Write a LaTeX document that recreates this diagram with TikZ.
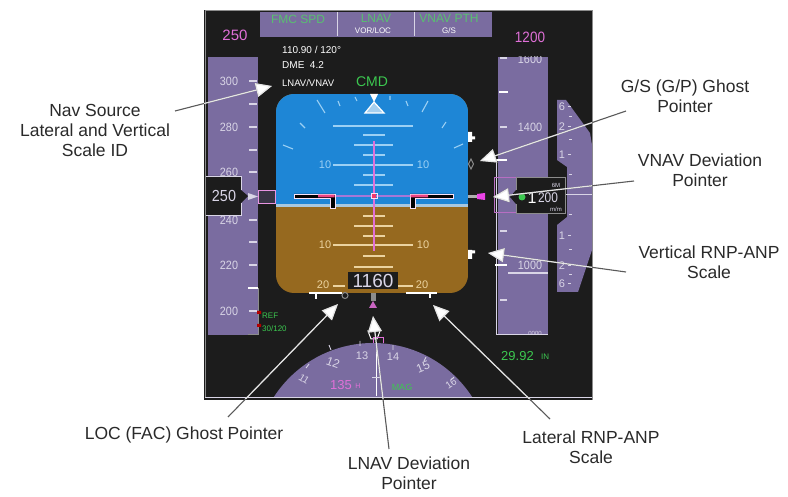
\documentclass[tikz,border=0pt]{standalone}
\usepackage{fontspec}
\setmainfont{Liberation Sans}
\usetikzlibrary{arrows.meta}
\definecolor{panelbg}{HTML}{1C1C1C}
\definecolor{tape}{HTML}{7A6CA0}
\definecolor{sky}{HTML}{1E86D6}
\definecolor{ground}{HTML}{96691F}
\definecolor{band}{HTML}{A8C8E0}
\definecolor{pale}{HTML}{D9D5E6}
\definecolor{skyline}{HTML}{9CD0F4}
\definecolor{gndline}{HTML}{EBD3A0}
\definecolor{mag}{HTML}{E070D8}
\definecolor{grn}{HTML}{3CC850}
\definecolor{bargrn}{HTML}{58C070}
\definecolor{edgegray}{HTML}{8C8C8C}
\definecolor{calloutgray}{HTML}{5A5A5A}
\definecolor{lbltext}{HTML}{2A2A2A}
\tikzset{
  lbl/.style={font=\fontsize{17.5}{20}\selectfont,align=center,inner sep=0pt,text=lbltext},
  disp/.style={inner sep=0pt,font=\fontsize{#1}{#1}\selectfont},
  tapeno/.style={disp=12,text=pale,xscale=.9},
  whitetick/.style={draw=white,line width=1.2pt},
  paletick/.style={draw=pale,line width=1.2pt},
  skyl/.style={draw=skyline,line width=1.2pt},
  gndl/.style={draw=gndline,line width=1.2pt},
  bankl/.style={draw=skyline,line width=1.1pt},
  wingbar/.style={fill=black,draw=white!80!mag,line width=.8pt},
  calloutout/.style={draw=calloutgray,line width=1.1pt,-{Triangle[length=16pt,width=14pt,fill=white]}},
  calloutin/.style={draw=white!90!black,line width=1.2pt,-{Triangle[length=16pt,width=14pt,fill=white]}},
}
\begin{document}
\begin{tikzpicture}[x=1pt,y=-1pt]
\useasboundingbox (0,0) rectangle (788,497);
\fill[white] (0,0) rectangle (788,497);
% panel
\fill[panelbg] (204,10) rectangle (593,400);
\draw[edgegray,line width=1.2pt] (204.5,10.5) -- (592.5,10.5) -- (592.5,400);
\draw[edgegray,line width=1pt] (205,10.5) -- (205,397);
% top bar
\fill[tape] (260,12) rectangle (492,37);
\draw[pale,line width=1pt] (337,12) -- (337,36) (414,12) -- (414,36);
\node[disp=12,text=bargrn] (fmc) at (298,19) {FMC SPD};
\node[disp=12,text=bargrn] (lnav) at (376,18) {LNAV};
\node[disp=8,text=white] (vor) at (373,31) {VOR/LOC};
\node[disp=12,text=bargrn] (vnav) at (449,18) {VNAV PTH};
\node[disp=8,text=white] (gs) at (449,31) {G/S};
\node[disp=15,text=mag] (spdsel) at (235,35) {250};
\node[disp=15,text=mag,xscale=.9] (vssel) at (530,37) {1200};
\node[disp=10,text=white,anchor=west] (freq) at (282,50) {110.90 / 120°};
\node[disp=10,text=white,anchor=west] (dme) at (282,65) {DME \ 4.2};
\node[disp=9.5,text=white,anchor=west] (src) at (282,83) {LNAV/VNAV};
\node[disp=14,text=grn] (cmd) at (372,82) {CMD};
% speed tape
\fill[tape] (208,57) rectangle (258,335);
\foreach \yy/\tt in {81/300,127/280,172/260,220/240,265/220,311/200}
  \node[tapeno] at (229,\yy) {\tt};
\foreach \yy in {81,104,127,150,172,220,242,265,311}
  \draw[paletick] (249,\yy) -- (257,\yy);
\draw[whitetick,line width=1.5pt] (248,288) -- (258,288);
\draw[edgegray,line width=1pt] (258,288) -- (258,335) -- (248,335);
\fill[red!70!black] (257,311) rectangle (261,314) (257,324) rectangle (261,327);
\node[disp=8,text=grn,anchor=west] (refl) at (262,316) {REF};
\node[disp=8,text=grn,anchor=west] (refv) at (262,329) {30/120};
% speed box
\fill[panelbg!70!tape] (258,190) rectangle (275,203);
\draw[mag!75!white,line width=.8pt] (258,190) rectangle (275,203);
\fill[panelbg] (206,176) -- (241,176) -- (241,190) -- (248,196) -- (241,203) -- (241,215) -- (206,215) -- cycle;
\fill[pale] (248,193) -- (258,196.5) -- (248,200) -- cycle;
\draw[pale,line width=.9pt] (241,190) -- (241,176) -- (206,176) (206,215) -- (241,215) -- (241,203);
\node[disp=16,text=pale,xscale=.9] (spd) at (224,196) {250};
% VSI tape
\fill[tape] (498,57) rectangle (548,335);
\draw[pale,line width=1pt] (496,160) -- (496,335) -- (548,335);
\begin{scope}
  \clip (498,57) rectangle (548,335);
  \node[tapeno] at (530,59) {1600};
\end{scope}
\node[tapeno] at (530,127) {1400};
\node[tapeno] at (530,265) {1000};
\foreach \yy in {58,127,231,300}
  \draw[paletick] (500,\yy) -- (507,\yy);
\draw[whitetick,line width=2pt] (499,92) -- (508,92);
\draw[whitetick] (496,160) -- (507,160);
\draw[whitetick,line width=2pt] (495,265) -- (507,265);
\draw[paletick] (508,273) -- (548,273);
\node[disp=6,text=pale] at (535,333) {0000};
% vertical scale on the right
\fill[tape] (557,100) -- (566,100) -- (590,133) -- (592,145) -- (592,250) -- (578,292) -- (557,292)
  -- (557,225) -- (567,217) -- (567,167) -- (557,160) -- cycle;
\foreach \yy/\tt in {107/6,127/2,155/1,236/1,266/2,284/6} {
  \node[disp=11,text=pale] at (562,\yy) {\tt};
  \draw[pale,line width=1pt] (568,\yy) -- (571,\yy);
}
\foreach \yy in {117,140,175,215,250,275}
  \draw[pale,line width=1pt] (569,\yy) -- (572,\yy);
\draw[pale,line width=1pt] (548,195) -- (592,195);
% VS box
\draw[mag!60!tape,line width=1pt] (516,178) -- (494,178) -- (494,213) -- (516,213);
\fill[panelbg] (516,178) -- (565,178) -- (565,214) -- (516,214) -- (516,204) -- (510,197) -- (516,190) -- cycle;
\draw[edgegray,line width=1pt] (516,190) -- (516,178) -- (565,178) -- (565,214) -- (516,214) -- (516,204);
\node[disp=16,text=white] (vsone) at (532,198) {1};
\node[disp=14,text=pale,xscale=.85] (vsrest) at (548,198) {200};
\node[disp=6,text=pale] (vstop) at (556,185) {6M};
\node[disp=6,text=pale] (vsbot) at (556,209) {m/m};
\fill[grn] (522,197) circle (3.5pt);
% ADI
\begin{scope}
  \clip[rounded corners=18pt] (276,94) rectangle (468,293);
  \fill[ground] (276,94) rectangle (468,293);
  \fill[sky] (276,94) rectangle (468,204);
  \fill[band] (276,204) rectangle (468,207.5);
\end{scope}
% pitch lines
\foreach \yy in {126,165} \draw[skyl] (333,\yy) -- (413,\yy);
\foreach \yy in {135,155,175} \draw[skyl] (363,\yy) -- (385,\yy);
\foreach \yy in {145,185} \draw[skyl] (354,\yy) -- (393,\yy);
\node[disp=11,text=skyline] (psa) at (325,165) {10};
\node[disp=11,text=skyline] (psb) at (423,165) {10};
\draw[gndl] (333,245) -- (413,245);
\foreach \yy in {216,236,256} \draw[gndl] (363,\yy) -- (385,\yy);
\foreach \yy in {226,267} \draw[gndl] (354,\yy) -- (393,\yy);
\draw[gndl] (333,286) -- (345,286) (398,286) -- (413,286);
\node[disp=11,text=gndline] (pga) at (325,245) {10};
\node[disp=11,text=gndline] (pgb) at (423,245) {10};
\node[disp=11,text=gndline] (pgc) at (323,285) {20};
\node[disp=11,text=gndline] (pgd) at (422,285) {20};
% bank scale
\draw[bankl] (317,100) -- (325,113) (338,101) -- (340,106) (355,97) -- (357,101)
  (390,96) -- (390,100) (406,101) -- (408,106) (422,112) -- (428,101)
  (300,123) -- (305,128) (283,145) -- (293,149) (442,128) -- (446,122) (454,148) -- (463,144);
% sky pointer
\fill[white] (370,94) -- (378,94) -- (374,102) -- cycle;
\draw[white,line width=1.2pt,fill=sky!40!white] (374,102) -- (365,113) -- (384,113) -- cycle;
% flight director
\draw[mag,line width=1.4pt] (374,141) -- (374,251);
\draw[mag!70!sky,line width=1.4pt] (335,196) -- (410,196);
\fill[mag!50!red] (372,194) rectangle (376,198);
\draw[white!80!mag,line width=.8pt] (371,193.5) rectangle (377,198.5);
% wings
\draw[wingbar] (294,194) -- (335,194) -- (335,208) -- (330,208) -- (330,198) -- (294,198) -- cycle;
\draw[wingbar] (453,194) -- (410,194) -- (410,208) -- (415,208) -- (415,198) -- (453,198) -- cycle;
\fill[mag!60!red] (318,194.6) rectangle (334.5,197.4) (410.5,194.6) rectangle (428,197.4);
% altitude readout
\fill[panelbg] (348,272) rectangle (398,289);
\node[disp=19,text=pale] (alt) at (373,281) {1160};
% scales below and right of the ADI
\draw[white,line width=2pt] (309,293.5) -- (342,293.5) (406,293.5) -- (437,293.5);
\draw[white,line width=1.3pt] (316,293) -- (316,299) (430,293) -- (430,298);
\draw[edgegray,line width=1pt] (345,295.5) circle (3pt);
\fill[edgegray] (371,293) rectangle (375.5,301);
\fill[mag!90!black] (373,301) -- (377,308) -- (369,308) -- cycle;
\fill[white] (468,132) rectangle (472,142) (472,136.5) rectangle (475,139.5);
\draw[edgegray,line width=1pt] (471,159) -- (473.5,164) -- (471,169) -- (468.5,164) -- cycle;
\fill[edgegray!70!white] (468,195) rectangle (477,198.5);
\fill[mag!60!magenta] (477,194) -- (485,193) -- (485,200) -- (477,199) -- cycle;
\fill[white] (468,250) rectangle (472,259) (472,250.5) rectangle (475,253.5);
% compass
\begin{scope}
  \clip (204,10) rectangle (593,396.5);
  \fill[tape] (373,461) circle (118pt);
\end{scope}
\draw[pale,line width=1pt] (205,397) -- (592,397);
\draw[white,line width=1pt] (376,343) -- (376,396);
\draw[pale,line width=1pt] (372,378) -- (381,378);
\draw[white,line width=1pt] (368,331) -- (380,331) -- (377,339) -- (371,339) -- cycle;
\draw[mag,line width=.8pt] (373,337) -- (383,337) -- (383,343) (373,337) -- (373,343);
\node[disp=10,text=pale,rotate=-32] (hda) at (304,379) {11};
\node[disp=12,text=pale,rotate=-20] (hdb) at (333,363) {12};
\node[disp=11,text=pale] (hdc) at (362,356) {13};
\node[disp=11,text=pale] (hdd) at (393,357) {14};
\node[disp=12,text=pale,rotate=22] (hde) at (423,367) {15};
\node[disp=10,text=pale,rotate=34] (hdf) at (451,384) {16};
\draw[pale,line width=.9pt] (329,345) -- (331,350) (360,341) -- (360,346) (393,345) -- (393,350) (426,357) -- (424,361) (454,377) -- (451,380) (309,364) -- (306,368);
\node[disp=13,text=mag] (hdg) at (341,385) {135};
\node[disp=7,text=mag] (hdh) at (358,386) {H};
\node[disp=9,text=grn] (mg) at (402,387) {MAG};
\node[disp=13,text=grn,anchor=west] (baro) at (501,356) {29.92};
\node[disp=8,text=grn,anchor=west] (baroin) at (541,357) {IN};
% labels
\node[lbl] (n1) at (95,130) {Nav Source\\Lateral and Vertical\\Scale ID};
\node[lbl] (n2) at (685,96) {G/S (G/P) Ghost\\Pointer};
\node[lbl] (n3) at (700,170) {VNAV Deviation\\Pointer};
\node[lbl] (n4) at (709,262) {Vertical RNP-ANP\\Scale};
\node[lbl] (n5) at (591,447) {Lateral RNP-ANP\\Scale};
\node[lbl] (n6) at (409,473) {LNAV Deviation\\Pointer};
\node[lbl] (n7) at (184,435) {LOC (FAC) Ghost Pointer};
% callouts
\coordinate (s1) at (175,111); \coordinate (t1) at (272,86);
\coordinate (s2) at (626,111); \coordinate (t2) at (480,161);
\coordinate (s3) at (634,181); \coordinate (t3) at (493,197);
\coordinate (s4) at (626,272); \coordinate (t4) at (488,253);
\coordinate (s5) at (550,419); \coordinate (t5) at (433,305);
\coordinate (s6) at (389,449); \coordinate (t6) at (373,316);
\coordinate (s7) at (228,417); \coordinate (t7) at (338,304);
\foreach \i in {1,...,7} \draw[calloutout] (s\i) -- (t\i);
\begin{scope}
  \clip (204,10) rectangle (592,398);
  \foreach \i in {1,...,7} \draw[calloutin] (s\i) -- (t\i);
\end{scope}
\end{tikzpicture}
\end{document}
